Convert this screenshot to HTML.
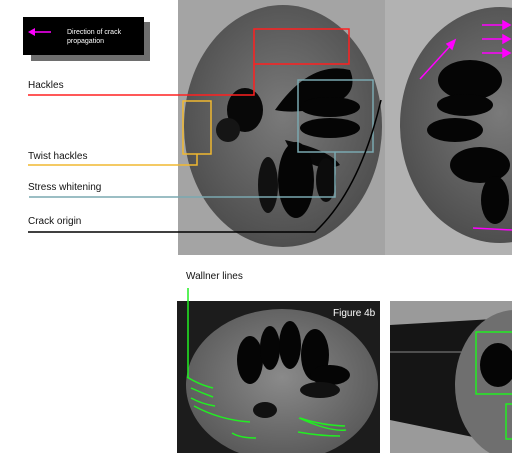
<!DOCTYPE html>
<html><head><meta charset="utf-8"><style>
html,body{margin:0;padding:0;background:#fff;width:512px;height:453px;overflow:hidden}
svg{display:block;font-family:"Liberation Sans",sans-serif}
</style></head><body>
<svg width="512" height="453" viewBox="0 0 512 453">
<defs>
<radialGradient id="g1" cx="50%" cy="45%" r="60%"><stop offset="0" stop-color="#7a7a7a"/><stop offset="1" stop-color="#4a4a4a"/></radialGradient>
<radialGradient id="g3" cx="50%" cy="45%" r="60%"><stop offset="0" stop-color="#8a8a8a"/><stop offset="1" stop-color="#555"/></radialGradient>
</defs>
<g>
<rect x="178" y="0" width="207" height="255" fill="#a4a4a4"/>
<ellipse cx="283" cy="126" rx="99" ry="121" fill="url(#g1)"/>
<ellipse cx="245" cy="110" rx="18" ry="22" fill="#080808"/>
<ellipse cx="228" cy="130" rx="12" ry="12" fill="#151515"/>
<path d="M275,110 Q310,60 350,70 Q360,95 330,105 Q300,115 275,110Z" fill="#050505"/>
<ellipse cx="330" cy="107" rx="30" ry="10" fill="#050505"/>
<ellipse cx="330" cy="128" rx="30" ry="10" fill="#050505"/>
<path d="M285,140 Q330,150 340,165 Q320,175 290,150Z" fill="#080808"/>
<ellipse cx="296" cy="180" rx="18" ry="38" fill="#050505"/>
<ellipse cx="268" cy="185" rx="10" ry="28" fill="#111"/>
<ellipse cx="326" cy="180" rx="10" ry="22" fill="#0c0c0c"/>
</g>
<g>
<rect x="385" y="0" width="127" height="255" fill="#b2b2b2"/>
<ellipse cx="500" cy="125" rx="100" ry="118" fill="url(#g1)"/>
<ellipse cx="470" cy="80" rx="32" ry="20" fill="#050505"/>
<ellipse cx="465" cy="105" rx="28" ry="11" fill="#050505"/>
<ellipse cx="455" cy="130" rx="28" ry="12" fill="#050505"/>
<ellipse cx="480" cy="165" rx="30" ry="18" fill="#050505"/>
<ellipse cx="495" cy="200" rx="14" ry="24" fill="#050505"/>
<g stroke="#ff00ff" stroke-width="1.5" fill="#ff00ff">
<line x1="420" y1="79" x2="452" y2="44"/><polygon points="455,40 447,44 452,49"/>
<line x1="482" y1="25" x2="506" y2="25"/><polygon points="510,25 503,21 503,29"/>
<line x1="482" y1="39" x2="506" y2="39"/><polygon points="510,39 503,35 503,43"/>
<line x1="482" y1="53" x2="506" y2="53"/><polygon points="510,53 503,49 503,57"/>
<line x1="473" y1="228" x2="512" y2="230"/>
</g>
</g>
<g>
<rect x="31" y="22" width="119" height="39" fill="#6e6e6e"/>
<rect x="23" y="17" width="121" height="38" fill="#000"/>
<line x1="32" y1="32" x2="51" y2="32" stroke="#ff00ff" stroke-width="1.5"/>
<polygon points="28,32 35,28 35,36" fill="#ff00ff"/>
<text x="67" y="34" font-size="7" fill="#fff">Direction of crack</text>
<text x="67" y="43" font-size="7" fill="#fff">propagation</text>
</g>
<g fill="none" stroke-width="1.5">
<rect x="254" y="29" width="95" height="35" stroke="#ff2020"/>
<polyline points="28,95 254,95 254,64" stroke="#ff2020"/>
<rect x="183" y="101" width="28" height="53" stroke="#f0b830"/>
<polyline points="28,165 197,165 197,154" stroke="#f0b830"/>
<rect x="298" y="80" width="75" height="72" stroke="#7aa8b0"/>
<polyline points="29,197 335,197 335,152" stroke="#7aa8b0"/>
<path d="M28,232 L315,232 Q360,190 381,100" stroke="#000"/>
</g>
<g font-size="10" fill="#111">
<text x="28" y="88">Hackles</text>
<text x="28" y="159">Twist hackles</text>
<text x="28" y="190">Stress whitening</text>
<text x="28" y="224">Crack origin</text>
<text x="186" y="279">Wallner lines</text>
</g>
<g>
<rect x="177" y="301" width="203" height="152" fill="#1c1c1c"/>
<ellipse cx="282" cy="385" rx="96" ry="76" fill="url(#g3)"/>
<ellipse cx="250" cy="360" rx="13" ry="24" fill="#050505"/>
<ellipse cx="270" cy="348" rx="10" ry="22" fill="#050505"/>
<ellipse cx="290" cy="345" rx="11" ry="24" fill="#050505"/>
<ellipse cx="315" cy="355" rx="14" ry="26" fill="#050505"/>
<ellipse cx="330" cy="375" rx="20" ry="10" fill="#050505"/>
<ellipse cx="320" cy="390" rx="20" ry="8" fill="#111"/>
<ellipse cx="265" cy="410" rx="12" ry="8" fill="#111"/>
<text x="333" y="316" font-size="10" fill="#fff">Figure 4b</text>
<g stroke="#22ee22" stroke-width="1.5" fill="none">
<line x1="188" y1="288" x2="188" y2="377"/>
<path d="M187,377 Q200,385 213,388"/>
<path d="M191,388 Q202,393 213,397"/>
<path d="M191,398 Q202,404 215,406"/>
<path d="M194,406 Q220,420 250,422"/>
<path d="M232,433 Q240,438 256,438"/>
<path d="M299,418 Q330,432 346,430"/>
<path d="M300,418 Q320,425 345,426"/>
<path d="M298,432 Q320,436 340,436"/>
</g>
</g>
<g>
<rect x="390" y="301" width="122" height="152" fill="#9a9a9a"/>
<polygon points="390,325 512,318 512,445 390,420" fill="#151515"/>
<line x1="390" y1="352" x2="470" y2="352" stroke="#888" stroke-width="1"/>
<ellipse cx="515" cy="385" rx="60" ry="75" fill="#6f6f6f"/>
<ellipse cx="498" cy="365" rx="18" ry="22" fill="#050505"/>
<rect x="476" y="332" width="40" height="62" fill="none" stroke="#22ee22" stroke-width="1.5"/>
<rect x="506" y="404" width="10" height="35" fill="none" stroke="#22ee22" stroke-width="1.5"/>
</g>
</svg>
</body></html>
